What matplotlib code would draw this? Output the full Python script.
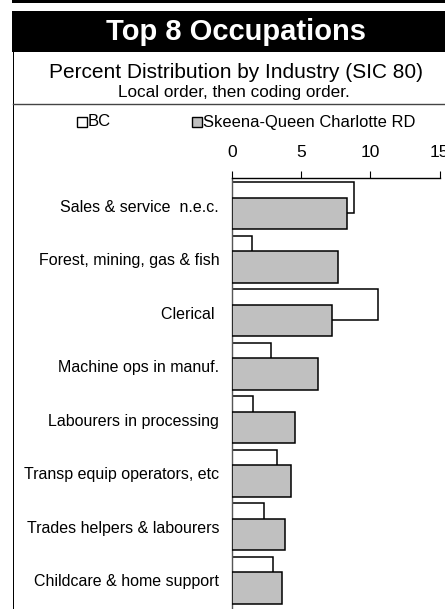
import matplotlib
matplotlib.use("Agg")
import matplotlib.pyplot as plt
from matplotlib.patches import Rectangle
from matplotlib.lines import Line2D

plt.rcParams['font.family'] = ['Liberation Sans', 'DejaVu Sans']

categories = ["Sales & service  n.e.c.", "Forest, mining, gas & fish", "Clerical ",
              "Machine ops in manuf.", "Labourers in processing",
              "Transp equip operators, etc", "Trades helpers & labourers",
              "Childcare & home support"]
bc_values = [8.8, 1.45, 10.55, 2.8, 1.5, 3.25, 2.35, 3.0]
local_values = [8.35, 7.65, 7.25, 6.25, 4.6, 4.25, 3.85, 3.6]
series_names = ["BC", "Skeena-Queen Charlotte RD"]
xticks = [0, 5, 10, 15]

W, H = 445, 609
fig = plt.figure(figsize=(W / 100, H / 100), dpi=100)

def px(x0, y0, w, h, **kw):
    fig.patches.append(Rectangle((x0 / W, 1 - (y0 + h) / H), w / W, h / H,
                                 transform=fig.transFigure, **kw))

# frame elements
px(12, 0, W - 12, 2.5, facecolor='black', edgecolor='none')
px(12, 11, W - 12, 41, facecolor='black', edgecolor='none')
px(12.5, 50, 1.6, H - 50, facecolor='black', edgecolor='none')
fig.lines.append(Line2D([13 / W, 1], [1 - 104 / H, 1 - 104 / H], transform=fig.transFigure,
                        color='#444444', lw=1.0))

fig.text(236 / W, 1 - 32 / H, "Top 8 Occupations", color='white', fontsize=21,
         fontweight='bold', ha='center', va='center')
fig.text(236 / W, 1 - 72 / H, "Percent Distribution by Industry (SIC 80)", fontsize=15,
         ha='center', va='center')
fig.text(234 / W, 1 - 92 / H, "Local order, then coding order.", fontsize=12.3,
         ha='center', va='center')

# legend
ly = 1 - 122 / H
fig.patches.append(Rectangle((77 / W, ly - 5 / H), 10 / W, 10 / H, transform=fig.transFigure,
                             facecolor='white', edgecolor='black', lw=1.0))
fig.text(88 / W, ly, series_names[0], fontsize=12, ha='left', va='center')
fig.patches.append(Rectangle((192 / W, ly - 5 / H), 10 / W, 10 / H, transform=fig.transFigure,
                             facecolor='#C0C0C0', edgecolor='black', lw=1.0))
fig.text(203 / W, ly, series_names[1], fontsize=11.9, ha='left', va='center')

ax = fig.add_axes([231.7 / W, 1 - 608 / H, (439.7 - 231.7) / W, (608 - 178) / H])
ypos = list(range(len(categories)))
ax.barh([y - 0.147 for y in ypos], bc_values, height=0.58, color='white',
        edgecolor='black', linewidth=1.1, zorder=2)
ax.barh([y + 0.147 for y in ypos], local_values, height=0.59, color='#C0C0C0',
        edgecolor='black', linewidth=1.1, zorder=3)
ax.set_xlim(0, 15)
ax.set_ylim(len(categories) - 0.48, -0.52)
ax.set_xticks(xticks)
ax.set_xticklabels([str(t) for t in xticks])
ax.xaxis.tick_top()
ax.tick_params(axis='x', direction='out', length=5, width=0.8, pad=8, labelsize=12.5)
ax.set_yticks(ypos)
ax.set_yticklabels(categories)
ax.tick_params(axis='y', length=0, pad=9, labelsize=11.5)
for s in ['bottom', 'right']:
    ax.spines[s].set_visible(False)
ax.spines['top'].set_linewidth(1.0)
ax.spines['left'].set_color('#555555')
ax.spines['left'].set_linewidth(1.0)
for lab in ax.get_xticklabels():
    lab.set_clip_on(False)

fig.savefig("out.png", dpi=100)
